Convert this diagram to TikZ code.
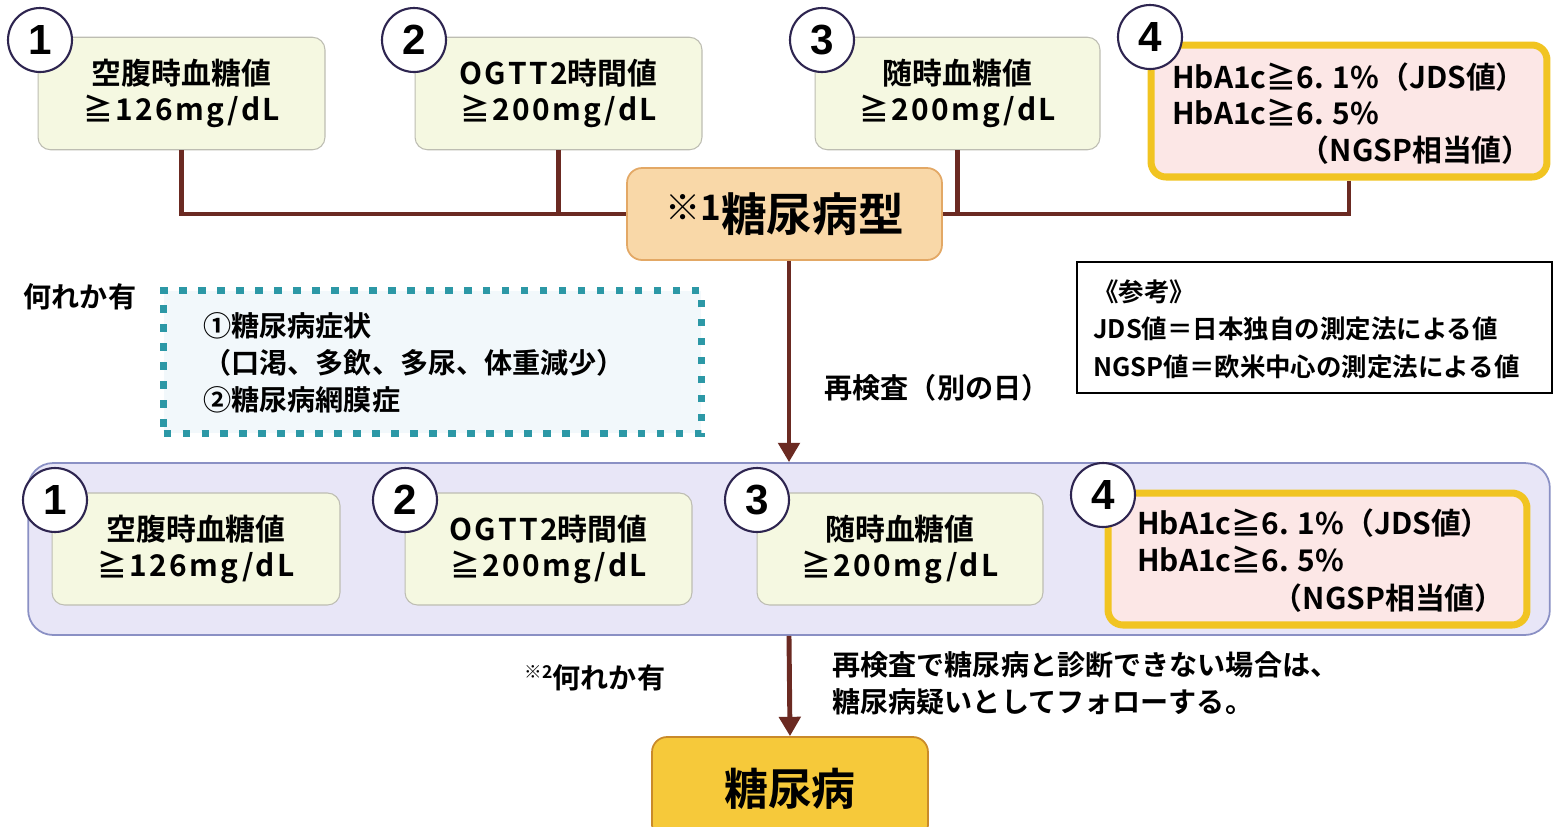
\documentclass[tikz,border=0pt]{standalone}
\usepackage{fontspec}
\setmainfont{Noto Sans CJK JP}[BoldFont=* Bold]
\newfontfamily\numfont{Liberation Sans}[BoldFont=* Bold]
\usetikzlibrary{arrows.meta}
\definecolor{connc}{HTML}{6B2A22}
\definecolor{boxfill}{HTML}{F5F8E1}
\definecolor{boxline}{HTML}{BDBDB2}
\definecolor{hbfill}{HTML}{FCE7E6}
\definecolor{hbline}{HTML}{F1C421}
\definecolor{numline}{HTML}{2E2550}
\definecolor{hubfill}{HTML}{F9D8A8}
\definecolor{hubline}{HTML}{E3A865}
\definecolor{dotc}{HTML}{2C98A6}
\definecolor{dotfill}{HTML}{F2F8FB}
\definecolor{bandfill}{HTML}{E8E6F7}
\definecolor{bandline}{HTML}{8A90C4}
\definecolor{finfill}{HTML}{F6C93A}
\definecolor{finline}{HTML}{C98A2A}
\newcommand\wide[1]{{\addfontfeature{LetterSpace=8}#1}}
\tikzset{
  pbox/.style={draw=boxline, fill=boxfill, line width=0.6pt, rounded corners=0.25cm,
    align=center, inner sep=0pt, minimum height=2.25cm,
    font=\bfseries\fontsize{17}{20.5}\selectfont},
  hbox/.style={draw=hbline, fill=hbfill, line width=4pt, rounded corners=0.3cm,
    inner sep=0pt, minimum height=2.64cm},
  htxt/.style={inner sep=0pt, font=\bfseries\fontsize{17}{20}\selectfont},
  num/.style={circle, draw=numline, fill=white, line width=1.2pt, minimum size=1.28cm,
    inner sep=0pt, font=\numfont\bfseries\fontsize{24}{24}\selectfont},
  link/.style={draw=connc, line width=2.8pt},
  arr/.style={draw=connc, line width=2.8pt, -{Triangle[width=12pt,length=11pt]}},
  lbl/.style={inner sep=0pt, font=\bfseries\fontsize{16}{21}\selectfont},
}
\begin{document}
\begin{tikzpicture}[x=0.02cm, y=-0.02cm]
\useasboundingbox (0,0) rectangle (1556,826);
\clip (0,0) rectangle (1556,826);
\fill[white] (0,0) rectangle (1556,826);

% ---------- top row ----------
\node[pbox, minimum width=5.74cm] (b1) at (181.5,93.5) {空腹時血糖値\\\wide{≧126mg/dL}};
\node[pbox, minimum width=5.74cm] (b2) at (558.5,93.5) {\wide{OGTT2}時間値\\\wide{≧200mg/dL}};
\node[pbox, minimum width=5.70cm] (b3) at (957.5,93.5) {随時血糖値\\\wide{≧200mg/dL}};
\node[hbox, minimum width=7.92cm] (b4) at (1349,111) {};
\node[htxt, anchor=west] (b4a) at (1172,77) {HbA1c≧6. 1\%（JDS値）};
\node[htxt, anchor=west] (b4b) at (1172,113) {HbA1c≧6. 5\%};
\node[htxt, anchor=east] (b4c) at (1532,150) {（NGSP相当値）};

\node[num] (n1) at (40,40) {1};
\node[num] (n2) at (414,40) {2};
\node[num] (n3) at (822,40) {3};
\node[num] (n4) at (1150,37) {4};

% hub
\node[draw=hubline, fill=hubfill, line width=1pt, rounded corners=0.3cm,
      minimum width=6.3cm, minimum height=1.84cm, inner sep=0pt,
      font=\bfseries] (hub) at (784.5,214)
  {{\fontsize{20}{20}\selectfont\raisebox{6pt}{※1}}\fontsize{26}{26}\selectfont 糖尿病型};

\draw[link] (b1.south) |- (hub.west);
\draw[link] (b2.south) -- (b2.south |- hub.west);
\draw[link] (b4.south) |- (hub.east);
\draw[link] (b3.south) -- (b3.south |- hub.east);

% ---------- middle ----------
\node[lbl] (any1) at (80,297) {何れか有};
\node[draw=dotc, fill=dotfill, line width=4pt, dash pattern=on 4.3pt off 6.5pt,
      minimum width=10.76cm, minimum height=2.86cm] (sym) at (432.5,362) {};
\node[lbl, anchor=west, align=left] (symt) at (203,363)
  {①糖尿病症状\\（口渇、多飲、多尿、体重減少）\\②糖尿病網膜症};

\node[draw=black, line width=1.2pt, minimum width=9.5cm, minimum height=2.62cm,
      inner sep=0pt] (ref) at (1314.5,327.5) {};
\node[inner sep=0pt, anchor=west, align=left, font=\bfseries\fontsize{14.5}{21.3}\selectfont]
  (reft) at (1093,329) {《参考》\\JDS値＝日本独自の測定法による値\\NGSP値＝欧米中心の測定法による値};

\node[lbl] (retest) at (937,388) {再検査（別の日）};

% ---------- band ----------
\node[draw=bandline, fill=bandfill, line width=1pt, rounded corners=0.5cm,
      minimum width=30.44cm, minimum height=3.44cm, inner sep=0pt] (band) at (789,549) {};

\draw[arr] (hub.south -| band.north) -- (band.north);

\node[pbox, minimum width=5.76cm, minimum height=2.24cm] (c1) at (196,549) {空腹時血糖値\\\wide{≧126mg/dL}};
\node[pbox, minimum width=5.74cm, minimum height=2.24cm] (c2) at (548.5,549) {\wide{OGTT2}時間値\\\wide{≧200mg/dL}};
\node[pbox, minimum width=5.72cm, minimum height=2.24cm] (c3) at (900,549) {随時血糖値\\\wide{≧200mg/dL}};
\node[hbox, minimum width=8.38cm] (c4) at (1317.5,559) {};
\node[htxt, anchor=west] (c4a) at (1137,523) {HbA1c≧6. 1\%（JDS値）};
\node[htxt, anchor=west] (c4b) at (1137,560) {HbA1c≧6. 5\%};
\node[htxt, anchor=east] (c4c) at (1505,598) {（NGSP相当値）};

\node[num] (m1) at (55,500) {1};
\node[num] (m2) at (405,500) {2};
\node[num] (m3) at (757,500) {3};
\node[num] (m4) at (1103,495) {4};

% ---------- bottom ----------
\node[draw=finline, fill=finfill, line width=1pt, rounded corners=0.3cm,
      minimum width=5.52cm, minimum height=2.06cm, inner sep=0pt,
      font=\bfseries\fontsize{25}{25}\selectfont] (dm) at (790,788.5) {糖尿病};
\draw[arr] (band.south) -- (dm.north);

\node[lbl] (any2) at (595,678) {{\fontsize{10}{10}\selectfont\raisebox{6pt}{※2}}何れか有};
\node[lbl, anchor=west, align=left] (note) at (832,683)
  {再検査で糖尿病と診断できない場合は、\\糖尿病疑いとしてフォローする。};
\end{tikzpicture}
\end{document}
